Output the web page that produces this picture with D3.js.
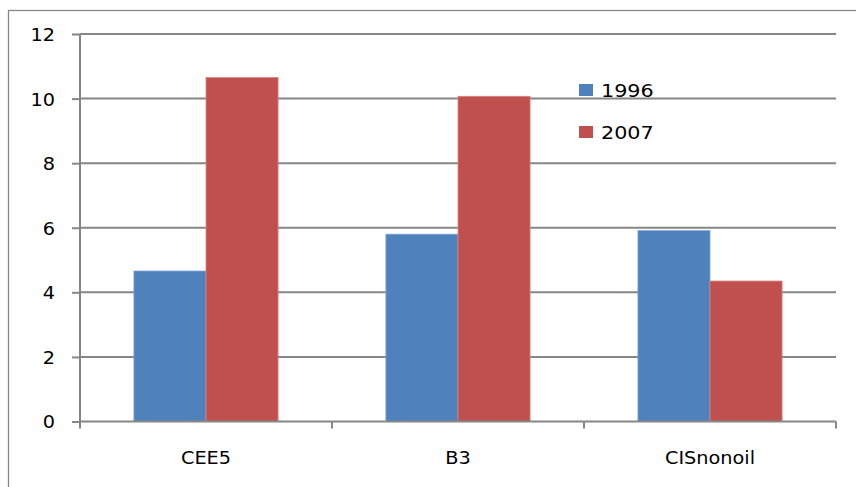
<!DOCTYPE html>
<html>
<head>
<meta charset="utf-8">
<script src="https://cdn.jsdelivr.net/npm/d3@7"></script>
<style>
  body { margin: 0; background: #fff; }
  svg text { font-family: "DejaVu Sans", Verdana, sans-serif; fill: #000; }
</style>
</head>
<body>
<div id="chart"></div>
<script>
// data
var categories = ["CEE5", "B3", "CISnonoil"];
var seriesNames = ["1996", "2007"];
var values1996 = [4.66, 5.80, 5.91];
var values2007 = [10.65, 10.07, 4.35];
var yTicks = [0, 2, 4, 6, 8, 10, 12];
var colors = ["#4F81BD", "#C0504D"];

var width = 856, height = 487;
var margin = { top: 34, right: 20, bottom: 65.5, left: 80 };
var plotW = width - margin.left - margin.right,
    plotH = height - margin.top - margin.bottom;

var svg = d3.select("#chart").append("svg")
    .attr("width", width)
    .attr("height", height);

// outer chart border (runs off the right and bottom of the picture)
svg.append("rect")
    .attr("x", 8.5).attr("y", 10.5)
    .attr("width", 900).attr("height", 600)
    .attr("fill", "none")
    .attr("stroke", "#878787")
    .attr("stroke-width", 1.3);

var g = svg.append("g").attr("transform", "translate(" + margin.left + "," + margin.top + ")");

var x0 = d3.scaleBand().domain(categories).range([0, plotW]).paddingInner(0.428).paddingOuter(0.214);
var y = d3.scaleLinear().domain([0, 12]).range([plotH, 0]);

// gridlines
g.selectAll(".grid").data(yTicks.filter(d => d > 0)).enter().append("line")
    .attr("x1", 0).attr("x2", plotW)
    .attr("y1", d => y(d)).attr("y2", d => y(d))
    .attr("stroke", "#868686").attr("stroke-width", 2);

// bars
var data = categories.map(function(c, i) {
    return { cat: c, vals: [values1996[i], values2007[i]] };
});
var bw = x0.bandwidth() / 2;
var groups = g.selectAll(".grp").data(data).enter().append("g")
    .attr("transform", d => "translate(" + x0(d.cat) + ",0)");
groups.selectAll("rect").data(d => d.vals).enter().append("rect")
    .attr("x", (d, i) => i * bw)
    .attr("y", d => y(d))
    .attr("width", bw)
    .attr("height", d => plotH - y(d))
    .attr("fill", (d, i) => colors[i])
    .attr("stroke", (d, i) => i == 0 ? "#7fa3d6" : "#d98582")
    .attr("stroke-width", 0.8);

// y axis
var yAxis = g.append("g").call(d3.axisLeft(y).tickValues(yTicks).tickSize(8).tickPadding(17).tickFormat(d3.format("d")));
yAxis.select(".domain").attr("stroke", "#868686").attr("stroke-width", 2).attr("d", "M0," + plotH + "V0");
yAxis.selectAll(".tick line").attr("stroke", "#868686").attr("stroke-width", 2);
yAxis.selectAll("text").style("font-size", "18px").attr("dy", "0.36em");

// x axis
var xAxis = g.append("g").attr("transform", "translate(0," + plotH + ")")
    .call(d3.axisBottom(x0).tickSize(0).tickPadding(30));
xAxis.select(".domain").attr("stroke", "#868686").attr("stroke-width", 2).attr("d", "M0,0H" + plotW);
xAxis.selectAll("text").style("font-size", "18px");
var bounds = [0].concat(categories.map((c, i) => plotW * (i + 1) / categories.length));
xAxis.selectAll(".sep").data(bounds).enter().append("line")
    .attr("x1", d => d).attr("x2", d => d)
    .attr("y1", 0).attr("y2", 7)
    .attr("stroke", "#868686").attr("stroke-width", 2);

// legend
var legend = svg.append("g").attr("transform", "translate(579,84)");
seriesNames.forEach(function(s, i) {
    var row = legend.append("g").attr("transform", "translate(0," + (i * 42) + ")");
    row.append("rect").attr("width", 14).attr("height", 12).attr("fill", colors[i]);
    row.append("text").attr("x", 22).attr("y", 12.5)
        .style("font-size", "18px")
        .text(s);
});

// the original text is a little wider than DejaVu; stretch the glyphs slightly
svg.selectAll("text").each(function() {
    var len = this.getComputedTextLength();
    var k = this.parentNode.parentNode === legend.node() ? 1.15 : 1.07;
    d3.select(this).attr("textLength", len * k).attr("lengthAdjust", "spacingAndGlyphs");
});
</script>
</body>
</html>
